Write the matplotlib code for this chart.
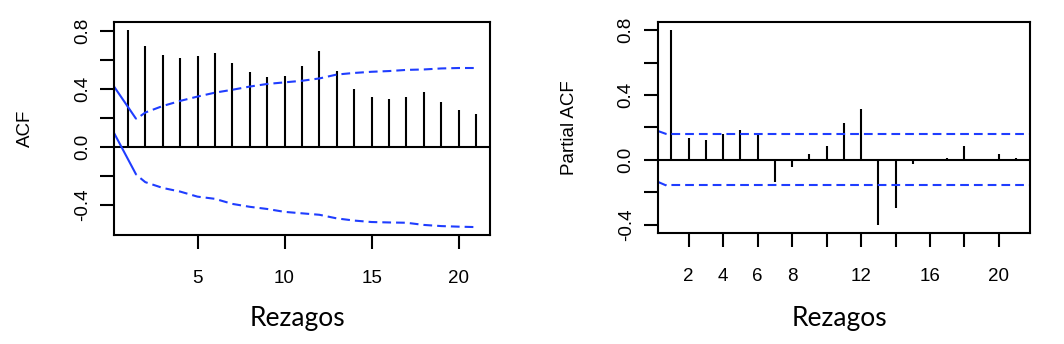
#!/usr/bin/env python

import numpy as np
import matplotlib
matplotlib.use("Agg")
from matplotlib import pyplot as plt

# Data
###########################################################################
lags = np.arange(1, 22)

acf_vals = [0.805, 0.692, 0.634, 0.613, 0.625, 0.648, 0.579, 0.512, 0.477, 0.489,
            0.558, 0.659, 0.523, 0.399, 0.341, 0.330, 0.341, 0.376, 0.309, 0.254, 0.226]

pacf_vals = [0.804, 0.133, 0.122, 0.161, 0.182, 0.165, -0.135, -0.045, 0.035, 0.082,
             0.224, 0.314, -0.404, -0.296, -0.024, 0.003, 0.010, 0.082, 0.002, 0.035, 0.012]

# confidence band of the ACF (first segment is drawn solid, the rest dashed)
acf_band_lags = [0.2, 1.48, 2, 3, 4, 5, 6, 7, 8, 9, 10, 11, 12, 13, 14, 15, 16, 17, 18, 19, 20, 21]
acf_band_upper = [0.415, 0.19, 0.235, 0.28, 0.315, 0.345, 0.372, 0.392, 0.414, 0.432, 0.443,
                  0.454, 0.47, 0.497, 0.508, 0.516, 0.521, 0.529, 0.532, 0.539, 0.542, 0.542]
acf_band_lower = [0.095, -0.194, -0.245, -0.285, -0.31, -0.345, -0.36, -0.395, -0.415, -0.43,
                  -0.45, -0.46, -0.47, -0.495, -0.51, -0.52, -0.523, -0.525, -0.54, -0.548,
                  -0.552, -0.555]

# confidence band of the PACF
pacf_band_lags = [0.2, 0.7, 21.8]
pacf_band_upper = [0.178, 0.159, 0.159]
pacf_band_lower = [-0.136, -0.159, -0.159]

acf_xticks = [5, 10, 15, 20]
acf_xlabels = ["5", "10", "15", "20"]
pacf_xticks = [2, 4, 6, 8, 10, 12, 14, 16, 18, 20]
pacf_xlabels = ["2", "4", "6", "8", "", "12", "", "16", "", "20"]
yticks = [-0.4, -0.2, 0.0, 0.2, 0.4, 0.6, 0.8]
ylabels = ["-0.4", "", "0.0", "", "0.4", "", "0.8"]

# Plot Setup
###########################################################################
band_color = '#1f3dff'
lw = 1.5
tick_font = 13.5

params = {'font.family': 'Liberation Sans',
          'font.size': tick_font,
          'axes.linewidth': lw,
          'xtick.labelsize': tick_font,
          'ytick.labelsize': tick_font,
          'xtick.major.size': 10,
          'ytick.major.size': 10,
          'xtick.major.width': lw,
          'ytick.major.width': lw,
          'xtick.major.pad': 15,
          'ytick.major.pad': 6.5,
          }
plt.rcParams.update(params)


def r_limits(values):
    lo, hi = min(values), max(values)
    d = (hi - lo) * 0.04
    return lo - d, hi + d


def draw_band(ax, x, y):
    # solid first piece, dashed remainder
    ax.plot(x[:2], y[:2], color=band_color, lw=lw, solid_capstyle='butt')
    ax.plot(x[1:], y[1:], color=band_color, lw=lw,
            linestyle=(4.0, (4.2, 2.4)), dash_capstyle='butt')


def corr_panel(ax, vals, bx, bu, bl, xticks, xlabels, ylabel_x, ylabel):
    ax.vlines(lags, 0, vals, color='black', lw=lw)
    ax.axhline(0, color='black', lw=lw)
    draw_band(ax, bx, bu)
    draw_band(ax, bx, bl)

    ax.set_xlim(r_limits(list(lags)))
    ax.set_ylim(r_limits(list(vals) + list(bu[1:]) + list(bl[1:])))
    ax.set_xticks(xticks)
    ax.set_xticklabels(xlabels)
    ax.set_yticks(yticks)
    ax.set_yticklabels(ylabels, rotation=90, va='center')

    pos = ax.get_position()
    fig = ax.figure
    fig.text(ylabel_x, pos.y0 + pos.height / 2, ylabel, rotation=90,
             ha='center', va='center', fontsize=tick_font)
    fig.text(pos.x0 + pos.width / 2 - 0.004, 0.052, "Rezagos", family='Lato',
             fontsize=19, ha='center', va='baseline')


def main():
    fig = plt.figure(figsize=(10.64, 3.44), dpi=100)
    ax1 = fig.add_axes([0.1071, 0.3169, 0.3534, 0.6192])
    ax2 = fig.add_axes([0.6181, 0.3227, 0.3499, 0.6142])

    corr_panel(ax1, acf_vals, acf_band_lags, acf_band_upper, acf_band_lower,
               acf_xticks, acf_xlabels, 0.0243, "ACF")
    corr_panel(ax2, pacf_vals, pacf_band_lags, pacf_band_upper, pacf_band_lower,
               pacf_xticks, pacf_xlabels, 0.5348, "Partial ACF")

    fig.savefig("out.png", dpi=100)


if __name__ == "__main__":
    main()
